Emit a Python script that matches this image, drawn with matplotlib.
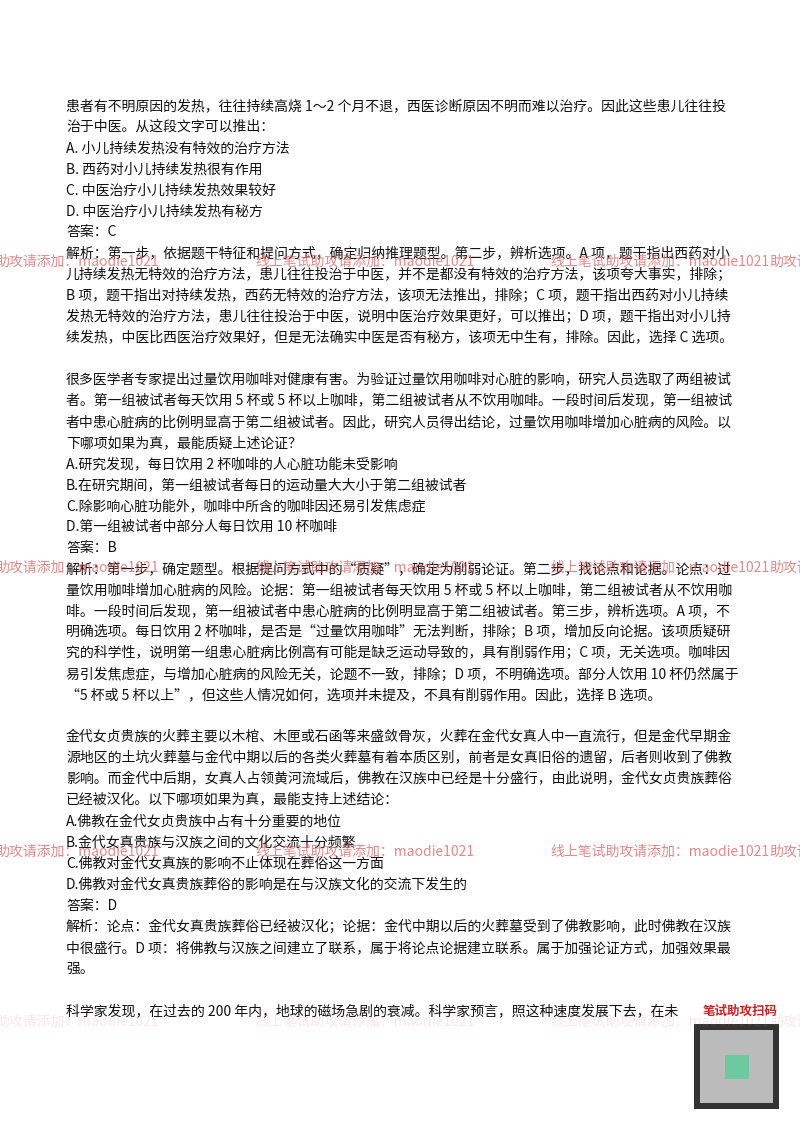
import matplotlib
matplotlib.use("Agg")
import matplotlib.pyplot as plt
from matplotlib.patches import Rectangle

plt.rcParams['font.family'] = ['Noto Sans CJK SC', 'DejaVu Sans']

W, H = 800, 1132

lines = [
    "患者有不明原因的发热，往往持续高烧 1～2 个月不退，西医诊断原因不明而难以治疗。因此这些患儿往往投",
    "治于中医。从这段文字可以推出：",
    "A. 小儿持续发热没有特效的治疗方法",
    "B. 西药对小儿持续发热很有作用",
    "C. 中医治疗小儿持续发热效果较好",
    "D. 中医治疗小儿持续发热有秘方",
    "答案：C",
    "解析：第一步，依据题干特征和提问方式，确定归纳推理题型。第二步，辨析选项。A 项，题干指出西药对小",
    "儿持续发热无特效的治疗方法，患儿往往投治于中医，并不是都没有特效的治疗方法，该项夸大事实，排除；",
    "B 项，题干指出对持续发热，西药无特效的治疗方法，该项无法推出，排除；C 项，题干指出西药对小儿持续",
    "发热无特效的治疗方法，患儿往往投治于中医，说明中医治疗效果更好，可以推出；D 项，题干指出对小儿持",
    "续发热，中医比西医治疗效果好，但是无法确实中医是否有秘方，该项无中生有，排除。因此，选择 C 选项。",
    "",
    "很多医学者专家提出过量饮用咖啡对健康有害。为验证过量饮用咖啡对心脏的影响，研究人员选取了两组被试",
    "者。第一组被试者每天饮用 5 杯或 5 杯以上咖啡，第二组被试者从不饮用咖啡。一段时间后发现，第一组被试",
    "者中患心脏病的比例明显高于第二组被试者。因此，研究人员得出结论，过量饮用咖啡增加心脏病的风险。以",
    "下哪项如果为真，最能质疑上述论证？",
    "A.研究发现，每日饮用 2 杯咖啡的人心脏功能未受影响",
    "B.在研究期间，第一组被试者每日的运动量大大小于第二组被试者",
    "C.除影响心脏功能外，咖啡中所含的咖啡因还易引发焦虑症",
    "D.第一组被试者中部分人每日饮用 10 杯咖啡",
    "答案：B",
    "解析：第一步，确定题型。根据提问方式中的“质疑”，确定为削弱论证。第二步，找论点和论据。论点：过",
    "量饮用咖啡增加心脏病的风险。论据：第一组被试者每天饮用 5 杯或 5 杯以上咖啡，第二组被试者从不饮用咖",
    "啡。一段时间后发现，第一组被试者中患心脏病的比例明显高于第二组被试者。第三步，辨析选项。A 项，不",
    "明确选项。每日饮用 2 杯咖啡，是否是“过量饮用咖啡”无法判断，排除；B 项，增加反向论据。该项质疑研",
    "究的科学性，说明第一组患心脏病比例高有可能是缺乏运动导致的，具有削弱作用；C 项，无关选项。咖啡因",
    "易引发焦虑症，与增加心脏病的风险无关，论题不一致，排除；D 项，不明确选项。部分人饮用 10 杯仍然属于",
    "“5 杯或 5 杯以上”，但这些人情况如何，选项并未提及，不具有削弱作用。因此，选择 B 选项。",
    "",
    "金代女贞贵族的火葬主要以木棺、木匣或石函等来盛敛骨灰，火葬在金代女真人中一直流行，但是金代早期金",
    "源地区的土坑火葬墓与金代中期以后的各类火葬墓有着本质区别，前者是女真旧俗的遗留，后者则收到了佛教",
    "影响。而金代中后期，女真人占领黄河流域后，佛教在汉族中已经是十分盛行，由此说明，金代女贞贵族葬俗",
    "已经被汉化。以下哪项如果为真，最能支持上述结论：",
    "A.佛教在金代女贞贵族中占有十分重要的地位",
    "B.金代女真贵族与汉族之间的文化交流十分频繁",
    "C.佛教对金代女真族的影响不止体现在葬俗这一方面",
    "D.佛教对金代女真贵族葬俗的影响是在与汉族文化的交流下发生的",
    "答案：D",
    "解析：论点：金代女真贵族葬俗已经被汉化；论据：金代中期以后的火葬墓受到了佛教影响，此时佛教在汉族",
    "中很盛行。D 项：将佛教与汉族之间建立了联系，属于将论点论据建立联系。属于加强论证方式，加强效果最",
    "强。",
    "",
    "科学家发现，在过去的 200 年内，地球的磁场急剧的衰减。科学家预言，照这种速度发展下去，在未",
]

watermark_rows = [262, 568, 852]
watermark_text = ["助攻请添加：maodie1021", "线上笔试助攻请添加：maodie1021",
                  "线上笔试助攻请添加：maodie1021", "助攻请添加：ma"]
watermark_x = [-5, 255, 550, 770]

fig = plt.figure(figsize=(W / 100, H / 100), dpi=100)
ax = fig.add_axes([0, 0, 1, 1])
ax.set_xlim(0, W)
ax.set_ylim(H, 0)
ax.axis("off")

y0, dy = 106, 21.05
for k, s in enumerate(lines):
    ax.text(66, y0 + k * dy, s, fontsize=10, color="#111111", va="center", ha="left")

for wy in watermark_rows:
    for wx, wt in zip(watermark_x, watermark_text):
        ax.text(wx, wy, wt, fontsize=10, color="#e06060", alpha=0.75,
                va="center", ha="left")
for wx, wt in zip(watermark_x, watermark_text):
    ax.text(wx, 1022, wt, fontsize=10, color="#e06060", alpha=0.15, va="center", ha="left")

# QR code area
ax.add_patch(Rectangle((690, 1004), 100, 16, facecolor="white", edgecolor="none"))
ax.text(740, 1011, "笔试助攻扫码", fontsize=9, color="#d02020", fontweight="bold",
        va="center", ha="center")
ax.add_patch(Rectangle((694, 1024), 85, 85, facecolor="#333333", edgecolor="none"))
ax.add_patch(Rectangle((700, 1030), 73, 73, facecolor="#bbbbbb", edgecolor="none"))
ax.add_patch(Rectangle((725, 1055), 24, 24, facecolor="#6cc9a0", edgecolor="none"))

fig.savefig("out.png", dpi=100, facecolor="white")
